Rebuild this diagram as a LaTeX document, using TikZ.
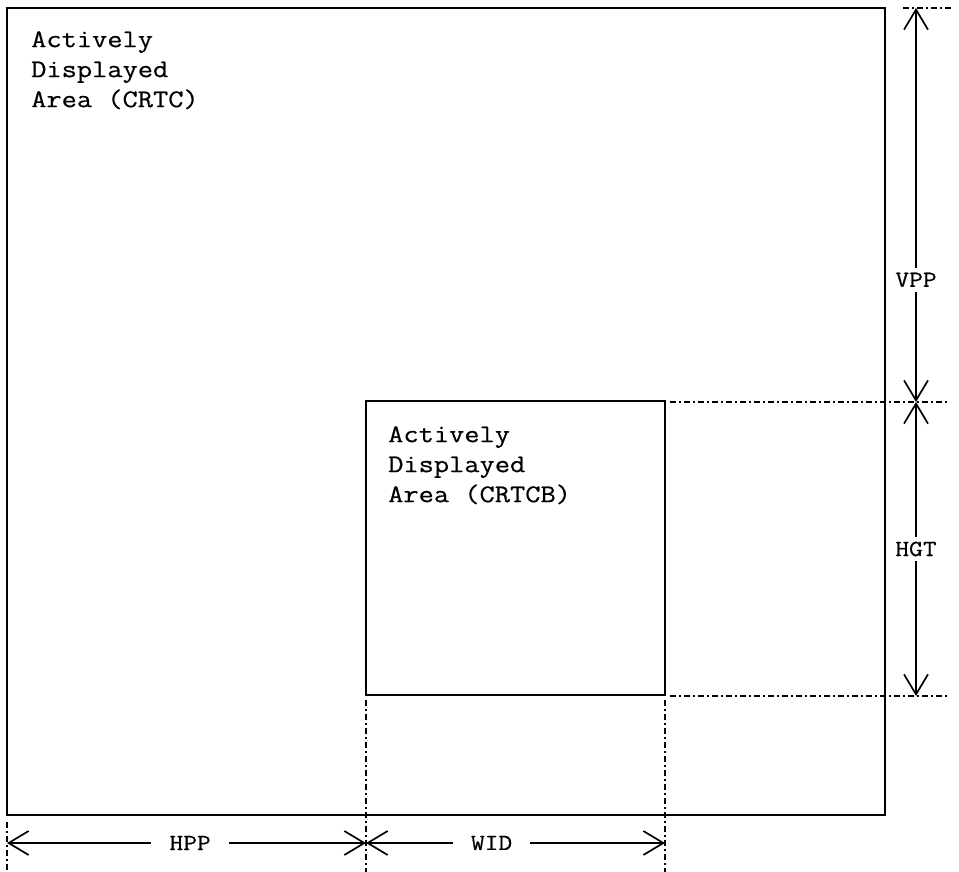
\documentclass[tikz,border=0pt]{standalone}
\usepackage{fontspec}
\setmonofont{Latin Modern Mono}[FakeStretch=1.16,FakeBold=0.5]
\usetikzlibrary{arrows.meta}
\begin{document}
\begin{tikzpicture}[x=1pt,y=-1pt,
  box/.style={draw=black,line width=1.6pt,inner sep=0pt},
  boxtext/.style={anchor=north west,inner sep=0pt,align=left,font=\ttfamily\fontsize{25.5}{30}\selectfont},
  ext/.style={line width=1.3pt,dash pattern=on 6pt off 3pt on 2pt off 3pt},
  dim/.style={line width=1.5pt,{Straight Barb[length=20pt,width=24pt,line width=1.7pt]}-{Straight Barb[length=20pt,width=24pt,line width=1.7pt]}},
  dimlabel/.style={fill=white,font=\ttfamily\fontsize{23}{27}\selectfont,inner xsep=3pt,inner ysep=5pt}
]
\useasboundingbox (0,0) rectangle (959,872);
% outer and inner areas
\coordinate (otl) at (7,8);
\coordinate (obr) at (885,815);
\coordinate (itl) at (366,401);
\coordinate (ibr) at (665,695);
\draw[box] (otl) rectangle (obr);
\draw[box,line width=1.4pt] (itl) rectangle (ibr);
\node[boxtext] (t1) at (31,31) {Actively\\Displayed\\Area (CRTC)};
\node[boxtext] (t2) at (388,426) {Actively\\Displayed\\Area (CRTCB)};
% extension lines
\coordinate (vtop) at (916,8);
\coordinate (vmid) at (916,402);
\coordinate (vbot) at (916,696);
\coordinate (hl) at (7,843);
\coordinate (hm) at (366,843);
\coordinate (hr) at (665,843);
\draw[ext] (903,8) -- (952,8);
\draw[ext] (670,402) -- (948,402);
\draw[ext] (670,696) -- (948,696);
\draw[ext] (7,822) -- (7,872);
\draw[ext] (366,700) -- (366,872);
\draw[ext] (665,700) -- (665,872);
% dimensions
\draw[dim] (vtop) -- node[dimlabel,pos=0.69] (vpp) {VPP} (vmid);
\draw[dim] (vmid) -- node[dimlabel,pos=0.5] (hgt) {HGT} (vbot);
\draw[dim] (hl) -- node[dimlabel,pos=0.51,inner xsep=18pt] (hpp) {HPP} (hm);
\draw[dim] (hm) -- node[dimlabel,pos=0.42,inner xsep=18pt] (wid) {WID} (hr);
\end{tikzpicture}
\end{document}
